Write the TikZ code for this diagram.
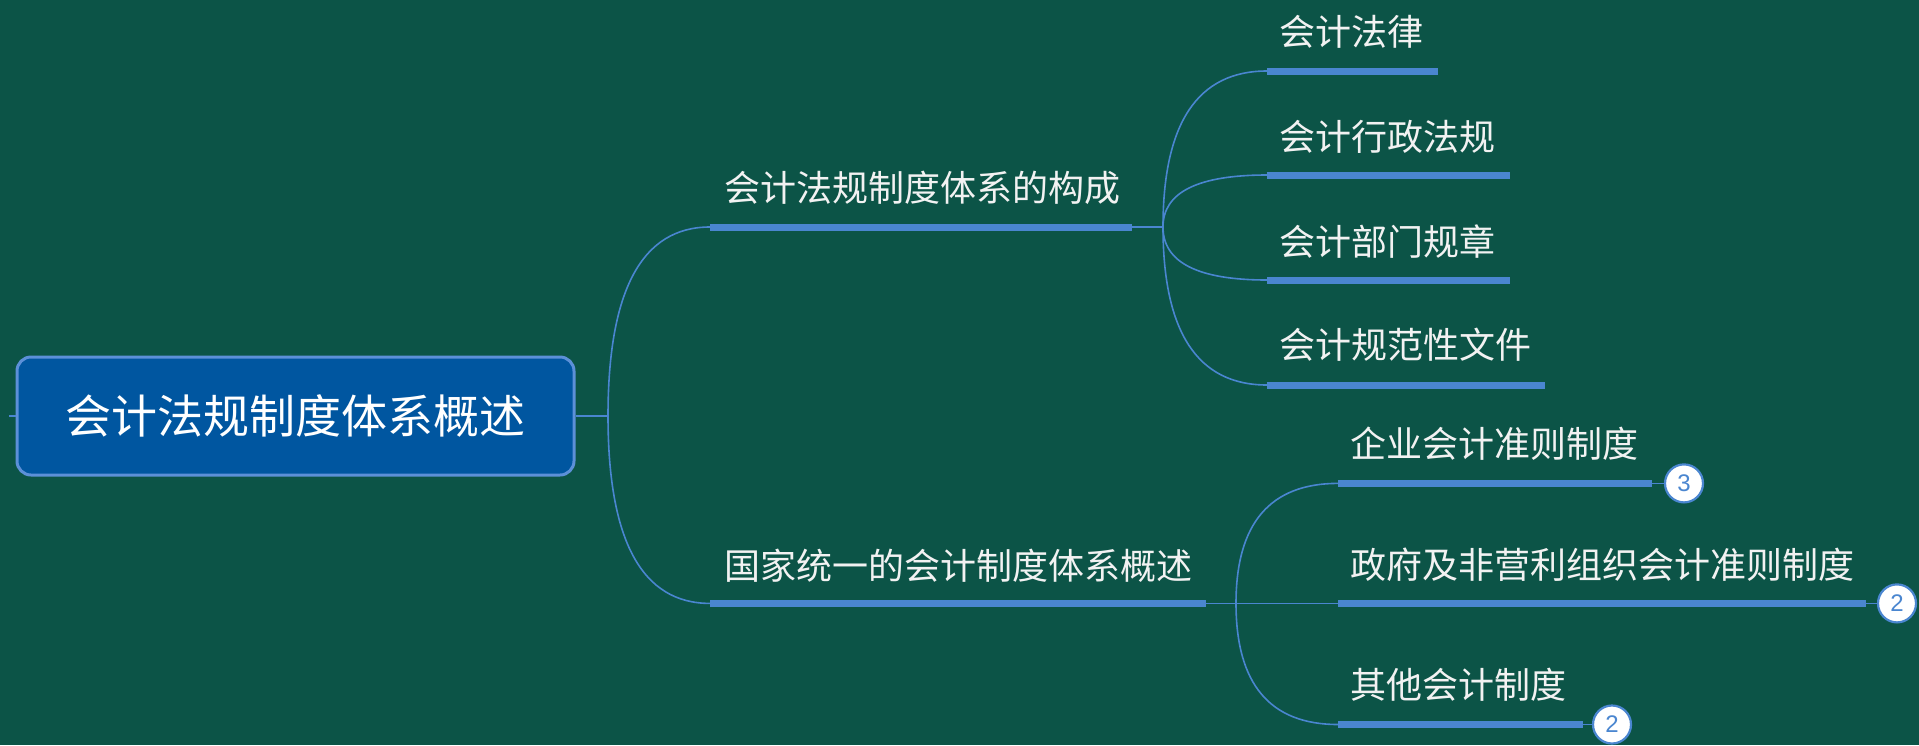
\documentclass[tikz,border=0pt]{standalone}
\usepackage{fontspec}
\newfontfamily\cjk{Noto Sans CJK SC}
\newfontfamily\badgefont{Liberation Sans}
\usetikzlibrary{calc}
\definecolor{bg}{RGB}{12,84,71}
\definecolor{linec}{RGB}{74,134,208}
\definecolor{rootfill}{RGB}{0,86,160}
\definecolor{rootborder}{RGB}{92,144,216}
\definecolor{txt}{RGB}{242,242,242}
\newcommand\qcurve[2]{\draw[conn] (#1) .. controls ($(#1)!2/3!(#1|-#2)$) and ($(#2)!2/3!(#1|-#2)$) .. (#2);}
\begin{document}
\begin{tikzpicture}[x=1pt,y=-1pt,
  conn/.style={draw=linec,line width=1.6pt},
  under/.style={draw=linec,line width=7pt},
  rootbox/.style={draw=rootborder,line width=3pt,fill=rootfill,rounded corners=14pt,
    minimum width=557pt,minimum height=118pt,inner sep=0pt,text=white,
    font=\cjk\fontsize{46}{52}\selectfont},
  lbl/.style={anchor=west,inner sep=0pt,text=txt,font=\cjk\fontsize{36}{40}\selectfont},
  badge/.style={circle,draw=linec,line width=2.2pt,fill=white,text=linec,
    minimum size=38pt,inner sep=0pt,font=\badgefont\fontsize{24}{26}\selectfont}]
\fill[bg] (0,0) rectangle (1919,745);
\useasboundingbox (0,0) rectangle (1919,745);

% coordinates
\coordinate (ls) at (9,416);
\coordinate (j0) at (608,416);
\coordinate (b1s) at (710,227);
\coordinate (b1e) at (1132,227);
\coordinate (j1) at (1163,227);
\coordinate (b2s) at (710,603.4);
\coordinate (b2e) at (1205.5,603.4);
\coordinate (j2) at (1236,603.4);
\coordinate (c1s) at (1267,71);   \coordinate (c1e) at (1438,71);
\coordinate (c2s) at (1267,175);  \coordinate (c2e) at (1510,175);
\coordinate (c3s) at (1267,280);  \coordinate (c3e) at (1510,280);
\coordinate (c4s) at (1267,385);  \coordinate (c4e) at (1545,385);
\coordinate (d1s) at (1338,483.4); \coordinate (d1e) at (1652,483.4);
\coordinate (d2s) at (1338,603.4); \coordinate (d2e) at (1866,603.4);
\coordinate (d3s) at (1338,724.5); \coordinate (d3e) at (1582.5,724.5);

% root
\node[rootbox] (root) at (295.5,416) {会计法规制度体系概述};
\draw[conn] (ls) -- (root.west);
\draw[conn] (root.east) -- (j0);
\qcurve{j0}{b1s}
\qcurve{j0}{b2s}

% branch 1
\draw[under] (b1s) -- (b1e);
\draw[conn] (b1e) -- (j1);
\node[lbl] (b1t) at (724,188) {会计法规制度体系的构成};
\qcurve{j1}{c1s}
\qcurve{j1}{c2s}
\qcurve{j1}{c3s}
\qcurve{j1}{c4s}
\draw[under] (c1s) -- (c1e);
\draw[under] (c2s) -- (c2e);
\draw[under] (c3s) -- (c3e);
\draw[under] (c4s) -- (c4e);
\node[lbl] (c1t) at (1279,32) {会计法律};
\node[lbl] (c2t) at (1279,137) {会计行政法规};
\node[lbl] (c3t) at (1279,242) {会计部门规章};
\node[lbl] (c4t) at (1279,345) {会计规范性文件};

% branch 2
\draw[under] (b2s) -- (b2e);
\draw[conn] (b2e) -- (j2);
\node[lbl] (b2t) at (724,566) {国家统一的会计制度体系概述};
\qcurve{j2}{d1s}
\draw[conn] (j2) -- (d2s);
\qcurve{j2}{d3s}
\draw[under] (d1s) -- (d1e);
\draw[under] (d2s) -- (d2e);
\draw[under] (d3s) -- (d3e);
\node[lbl] (d1t) at (1350,444) {企业会计准则制度};
\node[lbl] (d2t) at (1350,565) {政府及非营利组织会计准则制度};
\node[lbl] (d3t) at (1350,685) {其他会计制度};

% badges
\node[badge] (k1) at (1684,483.4) {3};
\node[badge] (k2) at (1897,603.4) {2};
\node[badge] (k3) at (1612,724.5) {2};
\draw[conn] (d1e) -- (k1);
\draw[conn] (d2e) -- (k2);
\draw[conn] (d3e) -- (k3);
\end{tikzpicture}
\end{document}
